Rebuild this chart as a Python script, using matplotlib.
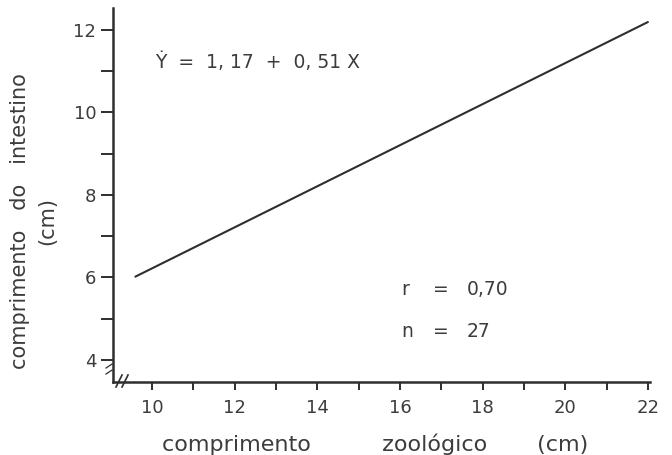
import matplotlib
matplotlib.use("Agg")
import matplotlib.pyplot as plt

# === Data ===
line_x = [9.6, 22.0]          # comprimento zoologico (cm)
line_y = [6.02, 12.19]        # comprimento do intestino (cm), fitted line
x_major = [10, 12, 14, 16, 18, 20, 22]
x_minor = [11, 13, 15, 17, 19, 21]
y_major = [4, 6, 8, 10, 12]
y_minor = [5, 7, 9, 11]
equation = "Ẏ  =  1, 17  +  0, 51 X"
stat_names = ["r", "n"]
stat_values = ["0,70", "27"]

ink = "#2e2e2e"
txt = "#3c3c3c"
plt.rcParams['font.family'] = ['DejaVu Sans']

fig = plt.figure(figsize=(6.72, 4.55), dpi=100)
ax = fig.add_axes([0.1682, 0.1604, 0.799, 0.822])
ax.set_xlim(9.06, 22.05)
ax.set_ylim(3.467, 12.53)

ax.plot(line_x, line_y, color=ink, linewidth=1.5, solid_capstyle='round')

# === Axes styling ===
for side in ['top', 'right']:
    ax.spines[side].set_visible(False)
for side in ['left', 'bottom']:
    ax.spines[side].set_color(ink)
    ax.spines[side].set_linewidth(1.8)

ax.set_xticks(x_major)
ax.set_xticks(x_minor, minor=True)
ax.set_yticks(y_major)
ax.set_yticks(y_minor, minor=True)
ax.tick_params(axis='x', which='both', direction='out', length=6, width=1.4,
               color=ink, labelsize=13, labelcolor=txt, pad=6)
ax.tick_params(axis='y', which='both', direction='out', length=9, width=1.4,
               color=ink, labelsize=13, labelcolor=txt, pad=3)

# axis break marks
for px in [116, 122]:
    ax.plot([(px - 113) / 537, (px + 6 - 113) / 537],
            [(382 - 387) / 374, (382 - 375) / 374],
            transform=ax.transAxes, clip_on=False, color=ink, linewidth=1.2)
for py in [366, 372]:
    ax.plot([(106 - 113) / 537, (112 - 113) / 537],
            [(382 - py - 2) / 374, (382 - py + 2) / 374],
            transform=ax.transAxes, clip_on=False, color=ink, linewidth=0.9)

# === Labels ===
ax.set_xlabel("comprimento          zoológico       (cm)", fontsize=16,
              color=txt, labelpad=6)
ax.xaxis.set_label_coords((375 - 113) / 537, (382 - 444) / 374)
ax.xaxis.label.set_verticalalignment('center')

ax.text((34 - 113) / 537, (382 - 221) / 374,
        "comprimento   do   intestino\n(cm)", transform=ax.transAxes,
        rotation=90, ha='center', va='center', multialignment='center',
        fontsize=15, color=txt, linespacing=1.45)

# === Annotations ===
ax.text(10.07, 11.22, equation, fontsize=13.5, color=txt, ha='left', va='center')
for name, value, y in zip(stat_names, stat_values, [5.70, 4.68]):
    ax.text(16.04, y, name, fontsize=13.5, color=txt, ha='left', va='center')
    ax.text(16.98, y, "=", fontsize=13.5, color=txt, ha='center', va='center')
    ax.text(17.61, y, value, fontsize=13.5, color=txt, ha='left', va='center')

fig.savefig("out.png", dpi=100, facecolor='white')
